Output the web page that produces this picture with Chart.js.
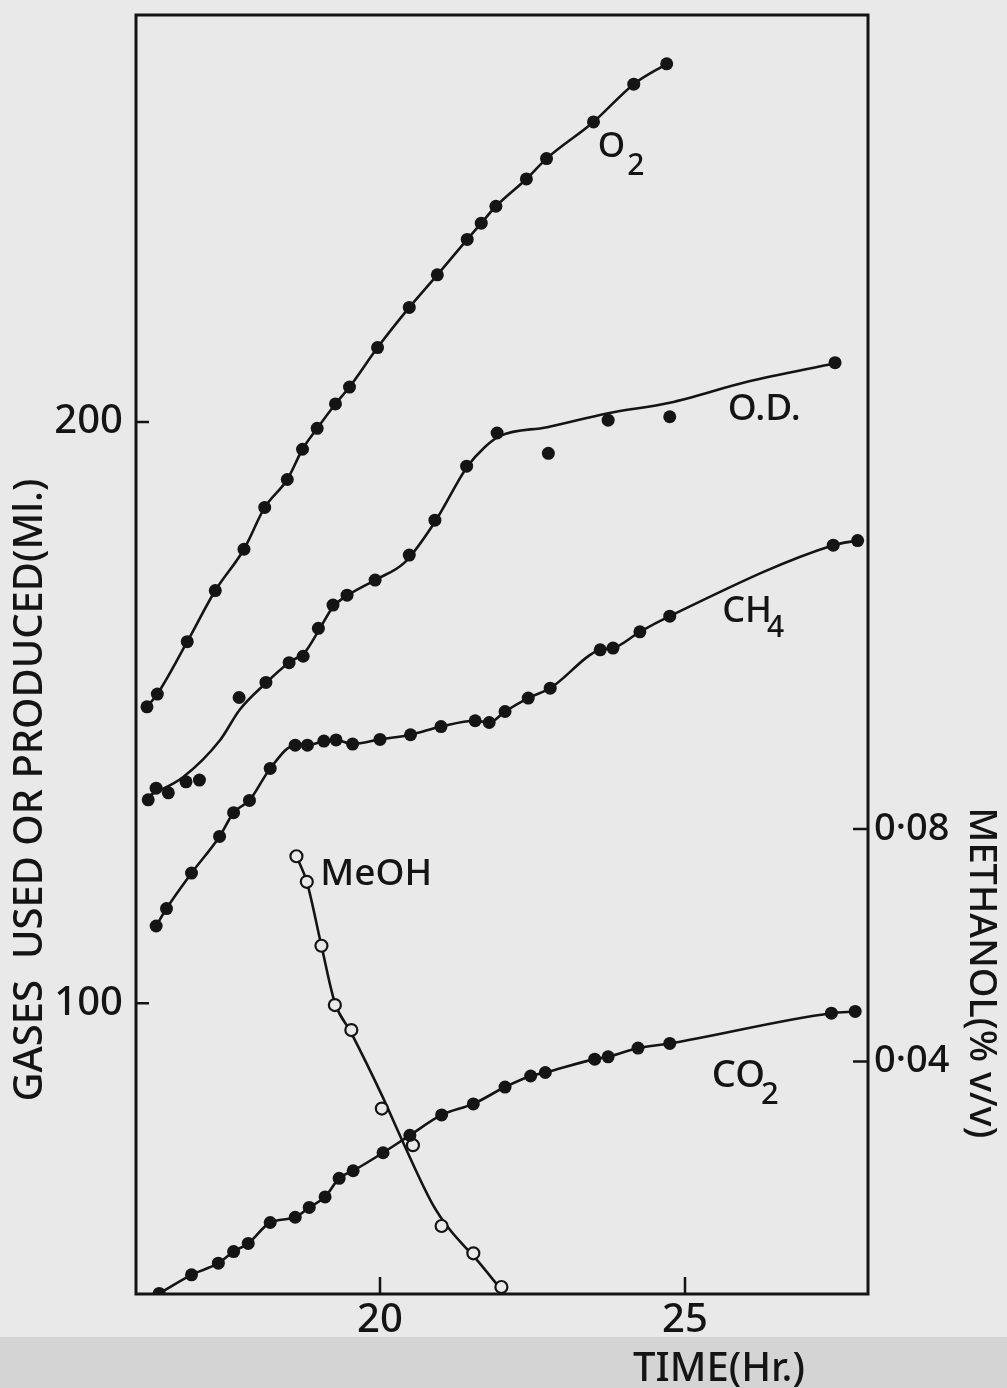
<!DOCTYPE html>
<html>
<head>
<meta charset="utf-8">
<script src="https://cdn.jsdelivr.net/npm/chart.js@4.4.1/dist/chart.umd.min.js"></script>
<style>
  html, body { margin: 0; padding: 0; }
  body { width: 1007px; height: 1388px; background: linear-gradient(#e9e9e9 0, #e9e9e9 1337px, #d4d4d4 1337px); }
  canvas { display: block; }
</style>
</head>
<body>
<canvas id="chart" width="1007" height="1388"></canvas>
<script>
// time (hr) vs gases used/produced (ml); methanol on the right axis (% v/v)
const o2Time = [16.18, 16.35, 16.84, 17.30, 17.77, 18.11, 18.48, 18.73, 18.97, 19.27, 19.50, 19.96, 20.48, 20.94, 21.43, 21.66, 21.90, 22.40, 22.73, 23.50, 24.16, 24.70];
const o2Vol  = [151.0, 153.2, 162.2, 171.0, 178.1, 185.3, 190.1, 195.3, 198.9, 203.1, 206.0, 212.8, 219.7, 225.3, 231.4, 234.2, 237.1, 241.8, 245.3, 251.6, 258.1, 261.6];

const odTime = [16.20, 16.33, 16.53, 16.82, 17.04, 17.69, 18.13, 18.51, 18.74, 18.99, 19.23, 19.46, 19.92, 20.48, 20.90, 21.42, 21.92, 22.76, 23.74, 24.75, 27.46];
const odVal  = [135.0, 137.0, 136.2, 138.1, 138.4, 152.6, 155.2, 158.6, 159.7, 164.5, 168.5, 170.2, 172.8, 177.1, 183.1, 192.4, 198.1, 194.6, 200.3, 200.9, 210.2];
// hand-drawn O.D. curve
const odFitTime = [16.23, 16.77, 17.38, 17.70, 18.13, 18.52, 18.77, 19.00, 19.23, 19.46, 19.92, 20.41, 20.90, 21.43, 21.72, 21.97, 22.74, 23.74, 24.75, 26.02, 27.46];
const odFitVal  = [135.8, 138.9, 145.3, 150.5, 155.1, 158.7, 160.4, 164.2, 168.2, 170.1, 172.8, 175.9, 182.8, 192.3, 195.7, 197.6, 199.1, 201.5, 203.3, 206.9, 210.1];

const ch4Time = [16.33, 16.50, 16.91, 17.37, 17.60, 17.86, 18.20, 18.61, 18.81, 19.08, 19.28, 19.55, 20.00, 20.50, 21.00, 21.56, 21.79, 22.05, 22.43, 22.79, 23.61, 23.82, 24.26, 24.75, 27.43, 27.83];
const ch4Vol  = [113.3, 116.3, 122.4, 128.7, 132.8, 134.9, 140.4, 144.4, 144.4, 145.1, 145.3, 144.6, 145.4, 146.2, 147.6, 148.6, 148.3, 150.2, 152.5, 154.2, 160.8, 161.1, 163.9, 166.6, 178.8, 179.6];

const co2Time = [16.38, 16.91, 17.35, 17.60, 17.84, 18.20, 18.61, 18.84, 19.10, 19.33, 19.56, 20.05, 20.49, 21.01, 21.53, 22.05, 22.47, 22.71, 23.52, 23.74, 24.23, 24.75, 27.40, 27.79];
const co2Vol  = [50.1, 53.3, 55.3, 57.3, 58.7, 62.3, 63.2, 64.9, 66.7, 69.9, 71.2, 74.3, 77.3, 80.8, 82.7, 85.6, 87.5, 88.1, 90.4, 90.8, 92.3, 93.1, 98.3, 98.6];

const meohTime = [18.63, 18.80, 19.04, 19.26, 19.53, 20.03, 20.54, 21.01, 21.53, 21.99];
const meohConc = [0.0753, 0.0709, 0.0599, 0.0497, 0.0454, 0.0319, 0.0256, 0.0117, 0.0070, 0.0012];
const meohFitTime = [18.63, 18.80, 19.04, 19.26, 19.52, 20.03, 20.36, 20.87, 21.15, 21.56, 21.99];
const meohFitConc = [0.0753, 0.0709, 0.0599, 0.0501, 0.0451, 0.0342, 0.0265, 0.0153, 0.0110, 0.0062, 0.0007];

const xTicks = [20, 25];
const yTicks = [100, 200];
const y2Ticks = [0.04, 0.08];

const INK = '#141414';
const PAPER = '#e9e9e9';
const FONT = '"Noto Sans", sans-serif';

Chart.defaults.font.family = FONT;
Chart.defaults.font.weight = '500';
Chart.defaults.color = INK;

const pts = (xs, ys) => xs.map((x, i) => ({ x, y: ys[i] }));

const dots = (xs, ys, line) => ({
  data: pts(xs, ys), yAxisID: 'y', showLine: line,
  borderColor: INK, borderWidth: 2.6, cubicInterpolationMode: 'monotone',
  pointRadius: 6.5, pointBackgroundColor: INK, pointBorderColor: INK, pointBorderWidth: 0,
});
const curve = (xs, ys, axis) => ({
  data: pts(xs, ys), yAxisID: axis, showLine: true,
  borderColor: INK, borderWidth: 2.6, cubicInterpolationMode: 'monotone', pointRadius: 0,
});

const labels = [
  { main: 'O', sub: '2', x: 23.57, y: 245.6, axis: 'y', size: 35, subSize: 30, dx: 2, drop: 18 },
  { main: 'O.D.', sub: '', x: 25.70, y: 200.3, axis: 'y', size: 37 },
  { main: 'CH', sub: '4', x: 25.61, y: 165.6, axis: 'y', size: 36, subSize: 30, dx: -5, drop: 15 },
  { main: 'MeOH', sub: '', x: 19.02, y: 120.4, axis: 'y', size: 37 },
  { main: 'CO', sub: '2', x: 25.44, y: 85.6, axis: 'y', size: 38, subSize: 31, dx: -4, drop: 17 },
];

const decor = {
  id: 'decor',
  afterDatasetsDraw(chart) {
    const ctx = chart.ctx;
    const { left, right, top, bottom } = chart.chartArea;
    const { x, y, y2 } = chart.scales;
    ctx.save();
    ctx.strokeStyle = INK;
    ctx.lineWidth = 3;
    ctx.strokeRect(left, top, right - left, bottom - top);
    ctx.lineWidth = 2.5;
    ctx.beginPath();
    x.ticks.forEach(t => { const p = x.getPixelForValue(t.value); ctx.moveTo(p, bottom); ctx.lineTo(p, bottom - 17); });
    y.ticks.forEach(t => { const p = y.getPixelForValue(t.value); ctx.moveTo(left, p); ctx.lineTo(left + 13, p); });
    y2.ticks.forEach(t => { const p = y2.getPixelForValue(t.value); ctx.moveTo(right, p); ctx.lineTo(right - 15, p); });
    ctx.stroke();

    ctx.fillStyle = INK;
    ctx.textBaseline = 'alphabetic';
    ctx.textAlign = 'left';
    labels.forEach(l => {
      const px = x.getPixelForValue(l.x), py = chart.scales[l.axis].getPixelForValue(l.y);
      ctx.font = `500 ${l.size}px ${FONT}`;
      ctx.fillText(l.main, px, py);
      if (l.sub) {
        const w = ctx.measureText(l.main).width;
        ctx.font = `500 ${l.subSize}px ${FONT}`;
        ctx.fillText(l.sub, px + w + l.dx, py + l.drop);
      }
    });

    // axis titles
    ctx.textAlign = 'center';
    ctx.textBaseline = 'middle';
    ctx.font = `500 40px ${FONT}`;
    ctx.save();
    ctx.translate(31, 790);
    ctx.rotate(-Math.PI / 2);
    ctx.fillText('GASES  USED OR PRODUCED(Ml.)', 0, 0);
    ctx.restore();
    ctx.save();
    ctx.font = `500 38px ${FONT}`;
    ctx.translate(981, 973);
    ctx.rotate(Math.PI / 2);
    ctx.fillText('METHANOL(% v/v)', 0, 0);
    ctx.restore();
    ctx.textBaseline = 'alphabetic';
    ctx.font = `500 40px ${FONT}`;
    ctx.fillText('TIME(Hr.)', 719, 1381);
    ctx.restore();
  }
};

const noPad = s => { s.paddingTop = 0; s.paddingBottom = 0; };

new Chart(document.getElementById('chart'), {
  type: 'scatter',
  data: {
    datasets: [
      dots(o2Time, o2Vol, true),
      dots(odTime, odVal, false),
      dots(ch4Time, ch4Vol, true),
      dots(co2Time, co2Vol, true),
      {
        data: pts(meohTime, meohConc), yAxisID: 'y2', showLine: false,
        pointRadius: 6, pointBackgroundColor: PAPER, pointBorderColor: INK, pointBorderWidth: 2.2,
      },
      curve(odFitTime, odFitVal, 'y'),
      curve(meohFitTime, meohFitConc, 'y2'),
    ]
  },
  options: {
    responsive: false,
    animation: false,
    layout: { padding: { top: 15, left: 0, right: 0, bottom: 0 } },
    plugins: { legend: { display: false }, tooltip: { enabled: false } },
    scales: {
      x: {
        type: 'linear', position: 'bottom', min: 16, max: 28,
        afterFit: s => { s.height = 94; s.paddingLeft = 0; s.paddingRight = 0; },
        afterBuildTicks: s => { s.ticks = xTicks.map(v => ({ value: v })); },
        grid: { drawOnChartArea: false, drawTicks: false },
        border: { display: false },
        ticks: { font: { size: 40 }, color: INK, padding: 3, maxRotation: 0, callback: v => String(v) },
      },
      y: {
        type: 'linear', position: 'left', min: 50, max: 270,
        afterFit: s => { s.width = 136; noPad(s); },
        afterBuildTicks: s => { s.ticks = yTicks.map(v => ({ value: v })); },
        grid: { drawOnChartArea: false, drawTicks: false },
        border: { display: false },
        ticks: { font: { size: 40 }, color: INK, padding: 13, callback: v => String(v) },
      },
      y2: {
        type: 'linear', position: 'right', min: 0, max: 0.22,
        afterFit: s => { s.width = 139; noPad(s); },
        afterBuildTicks: s => { s.ticks = y2Ticks.map(v => ({ value: v })); },
        grid: { drawOnChartArea: false, drawTicks: false },
        border: { display: false },
        ticks: { font: { size: 38 }, color: INK, padding: 6, callback: v => v.toFixed(2).replace('.', '·') },
      },
    }
  },
  plugins: [decor]
});
</script>
</body>
</html>
